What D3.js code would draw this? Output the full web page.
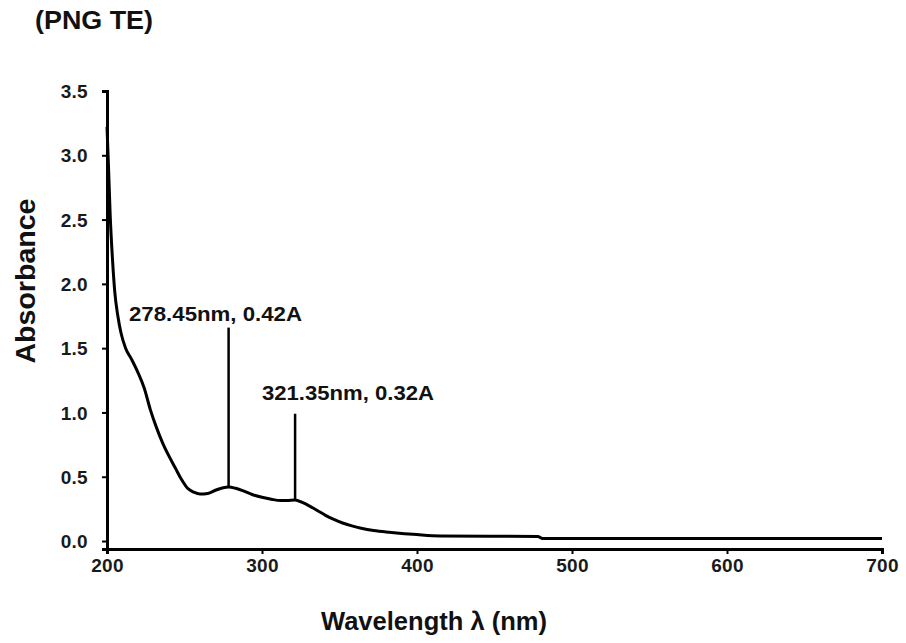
<!DOCTYPE html>
<html>
<head>
<meta charset="utf-8">
<script src="https://cdn.jsdelivr.net/npm/d3@7/dist/d3.min.js"></script>
<style>
  html, body { margin: 0; padding: 0; background: #fff; }
  svg { display: block; }
</style>
</head>
<body>
<svg id="chart" width="906" height="643"></svg>
<script>
// UV-Vis absorption spectrum of PNG TE
const wavelength = [200, 201, 202, 203.5, 205, 207, 209, 212, 216, 220, 224, 228, 232, 236, 240, 244, 248, 252, 256, 260, 265, 270, 275, 278.45, 283, 288, 294, 300, 306, 312, 316, 321.35, 326, 331, 336, 341, 346, 352, 358, 364, 372, 382, 392, 400, 415, 478, 481, 700];
const absorbance = [3.22, 2.9, 2.55, 2.2, 1.94, 1.75, 1.62, 1.5, 1.41, 1.31, 1.19, 1.02, 0.88, 0.76, 0.66, 0.57, 0.48, 0.41, 0.38, 0.365, 0.37, 0.395, 0.415, 0.42, 0.41, 0.39, 0.36, 0.34, 0.325, 0.315, 0.315, 0.32, 0.3, 0.27, 0.235, 0.2, 0.17, 0.14, 0.118, 0.1, 0.082, 0.068, 0.057, 0.05, 0.04, 0.035, 0.02, 0.02];

// Annotated peaks
const peakWavelength = [278.45, 321.35];
const peakAbsorbance = [0.42, 0.32];
const peakLabels = ["278.45nm, 0.42A", "321.35nm, 0.32A"];

const xTicks = [200, 300, 400, 500, 600, 700];
const yTicks = [0.0, 0.5, 1.0, 1.5, 2.0, 2.5, 3.0, 3.5];

const title = "(PNG TE)";
const xTitle = "Wavelength λ (nm)";
const yTitle = "Absorbance";

const svg = d3.select("#chart");
const plotLeft = 107, plotRight = 882, plotTop = 91, plotBottom = 549;

// y axis runs slightly below zero so the x axis sits under the 0.0 tick
const x = d3.scaleLinear().domain([200, 700]).range([plotLeft, plotRight]);
const y = d3.scaleLinear().domain([-0.062, 3.5]).range([plotBottom, plotTop]);

const labelFont = "'Liberation Sans', Arial, sans-serif";

// Spectrum line
const pts = wavelength.map((w, i) => [w, absorbance[i]]);
svg.append("path")
  .datum(pts)
  .attr("fill", "none")
  .attr("stroke", "#000")
  .attr("stroke-width", 3)
  .attr("stroke-linejoin", "round")
  .attr("d", d3.line().x(d => x(d[0])).y(d => y(d[1])).curve(d3.curveMonotoneX));

// Axes
const xAxis = svg.append("g")
  .attr("transform", `translate(0,${plotBottom})`)
  .call(d3.axisBottom(x).tickValues(xTicks).tickSize(5).tickPadding(5).tickFormat(d3.format("d")));
const yAxis = svg.append("g")
  .attr("transform", `translate(${plotLeft},0)`)
  .call(d3.axisLeft(y).tickValues(yTicks).tickSize(5).tickPadding(14).tickFormat(d3.format(".1f")));

[xAxis, yAxis].forEach(g => {
  g.select(".domain").attr("stroke", "#000").attr("stroke-width", 3);
  g.selectAll(".tick line").attr("stroke", "#000").attr("stroke-width", 2);
  g.selectAll(".tick text")
    .attr("fill", "#1a1a1a")
    .style("font-family", labelFont)
    .style("font-size", "19px")
    .style("font-weight", "bold")
    .style("letter-spacing", "0.3px");
});
yAxis.selectAll(".tick text").attr("dy", "0.35em");

// Peak markers and labels
const markerTop = [1.66, 0.99];
const labelPos = [[129, 314], [262, 393]];
const labelWidth = [173, 172];
peakWavelength.forEach((w, i) => {
  svg.append("line")
    .attr("x1", x(w)).attr("x2", x(w))
    .attr("y1", y(peakAbsorbance[i])).attr("y2", y(markerTop[i]))
    .attr("stroke", "#000").attr("stroke-width", 2.5);
  svg.append("text")
    .attr("x", labelPos[i][0]).attr("y", labelPos[i][1])
    .attr("dy", "0.35em")
    .attr("textLength", labelWidth[i])
    .attr("lengthAdjust", "spacingAndGlyphs")
    .style("font-family", labelFont)
    .style("font-size", "20px")
    .style("font-weight", "bold")
    .attr("fill", "#111")
    .text(peakLabels[i]);
});

// Titles
svg.append("text")
  .attr("x", 35).attr("y", 29)
  .attr("textLength", 118)
  .attr("lengthAdjust", "spacingAndGlyphs")
  .style("font-family", labelFont).style("font-size", "25px").style("font-weight", "bold")
  .attr("fill", "#111")
  .text(title);

svg.append("text")
  .attr("x", 321).attr("y", 630)
  .attr("textLength", 226)
  .attr("lengthAdjust", "spacingAndGlyphs")
  .style("font-family", labelFont)
  .style("font-size", "26px").style("font-weight", "bold")
  .attr("fill", "#111")
  .text(xTitle);

svg.append("text")
  .attr("transform", "translate(35,281) rotate(-90)")
  .attr("text-anchor", "middle")
  .attr("textLength", 165)
  .attr("lengthAdjust", "spacingAndGlyphs")
  .style("font-family", labelFont).style("font-size", "27px").style("font-weight", "bold")
  .attr("fill", "#111")
  .text(yTitle);
</script>
</body>
</html>
